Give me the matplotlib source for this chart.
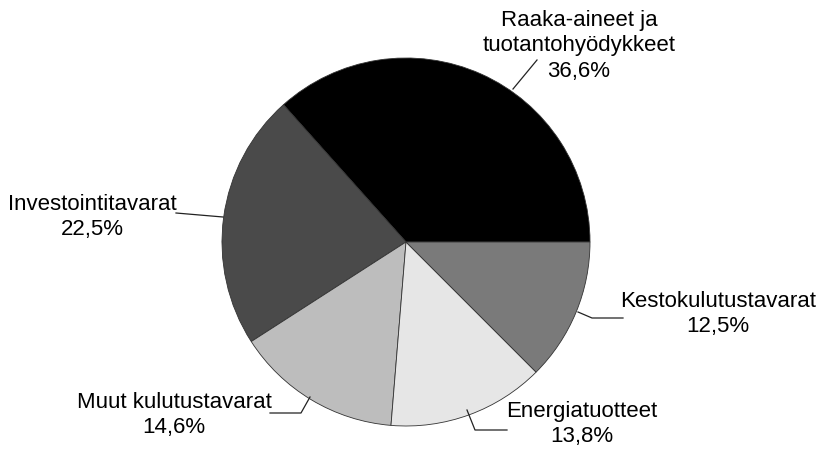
import matplotlib
matplotlib.use("Agg")
import matplotlib.pyplot as plt

categories = ["Raaka-aineet ja\ntuotantohyödykkeet", "Investointitavarat",
              "Muut kulutustavarat", "Energiatuotteet", "Kestokulutustavarat"]
shares = [36.6, 22.5, 14.6, 13.8, 12.5]
share_labels = ["36,6%", "22,5%", "14,6%", "13,8%", "12,5%"]
colors = ["#000000", "#4a4a4a", "#bdbdbd", "#e6e6e6", "#7a7a7a"]

W, H = 822, 455
fig = plt.figure(figsize=(W / 100, H / 100), dpi=100)
ax = fig.add_axes([0, 0, 1, 1])

cx, cy, r = 406, H - 242, 184
ax.pie(shares, colors=colors, startangle=0, counterclock=True,
       center=(cx, cy), radius=r, frame=True,
       wedgeprops=dict(linewidth=0.6, edgecolor="#333333"))
ax.set_xlim(0, W)
ax.set_ylim(0, H)
ax.set_aspect("equal")
ax.axis("off")

font = dict(family=["Liberation Sans", "DejaVu Sans"], fontsize=16, color="black")

# label text positions (pixel coords, y from top) and leader lines
label_pos = [(579, 46), (92, 217), (174, 415), (582, 424), (718, 314)]
leaders = [
    [(513, 89), (537, 60)],
    [(176, 213), (223, 217)],
    [(270, 413), (301, 413), (310, 397)],
    [(467, 410), (475, 430), (507, 430)],
    [(578, 312), (592, 318), (623, 318)],
]
for cat, lab, (x, y) in zip(categories, share_labels, label_pos):
    ax.text(x, H - y, cat + "\n" + lab, ha="center", va="center",
            linespacing=1.28, **font)
for pts in leaders:
    xs = [p[0] for p in pts]
    ys = [H - p[1] for p in pts]
    ax.plot(xs, ys, color="#222222", linewidth=0.9)

fig.savefig("out.png", dpi=100)
